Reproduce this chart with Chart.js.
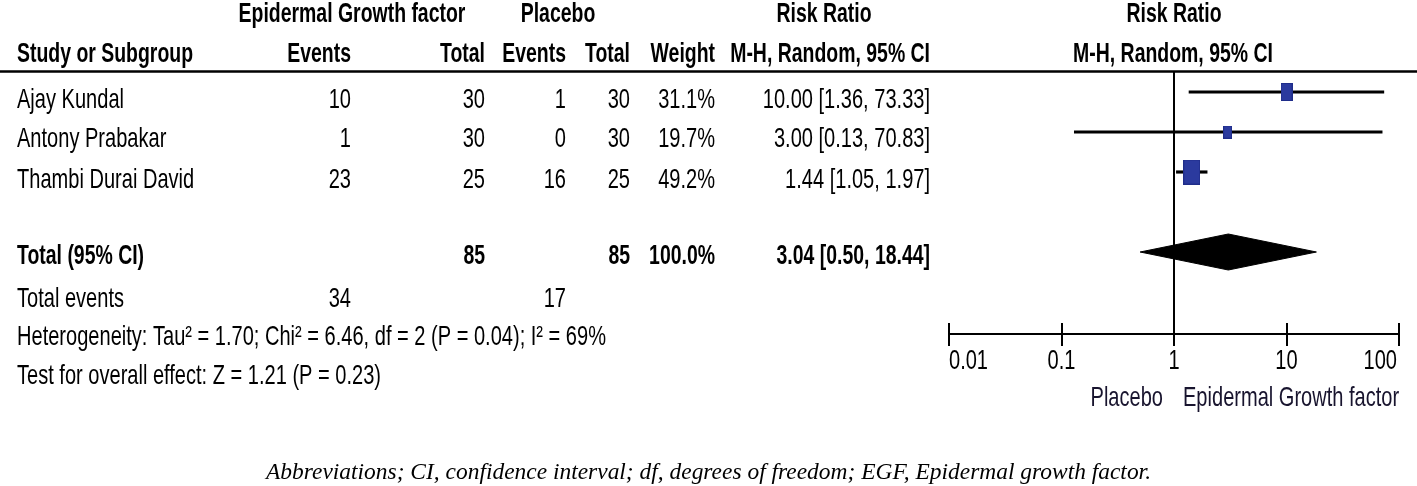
<!DOCTYPE html>
<html>
<head>
<meta charset="utf-8">
<script src="https://cdn.jsdelivr.net/npm/chart.js@4/dist/chart.umd.min.js"></script>
<style>
  html, body { margin: 0; padding: 0; background: #fff; }
  canvas { display: block; background: #fff; }
</style>
</head>
<body>
<canvas id="c" width="1417" height="486"></canvas>
<script>
// ---------------- DATA ----------------
const studies = ['Ajay Kundal', 'Antony Prabakar', 'Thambi Durai David'];
const egfEvents = [10, 1, 23];
const egfTotal = [30, 30, 25];
const placeboEvents = [1, 0, 16];
const placeboTotal = [30, 30, 25];
const weights = [31.1, 19.7, 49.2];
const riskRatio = [10.00, 3.00, 1.44];
const ciLow = [1.36, 0.13, 1.05];
const ciHigh = [73.33, 70.83, 1.97];

const totalLabel = 'Total (95% CI)';
const totalN = [85, 85];             // EGF total, placebo total
const totalWeight = 100.0;
const pooledRR = 3.04;
const pooledCI = [0.50, 18.44];
const totalEventsValues = [34, 17];   // EGF, placebo

const heterogeneityText = 'Heterogeneity: Tau\u00B2 = 1.70; Chi\u00B2 = 6.46, df = 2 (P = 0.04); I\u00B2 = 69%';
const overallEffectText = 'Test for overall effect: Z = 1.21 (P = 0.23)';

const xTickValues = [0.01, 0.1, 1, 10, 100];
const xTickLabels = ['0.01', '0.1', '1', '10', '100'];
const favoursLabels = ['Placebo', 'Epidermal Growth factor'];
const footnote = 'Abbreviations; CI, confidence interval; df, degrees of freedom; EGF, Epidermal growth factor.';

// ---------------- LAYOUT (not data) ----------------
const studyRows = [0, 1, 2];
const totalRow = 4;
const Y_MIN = -0.5, Y_MAX = 6.05;
const DIAMOND_HALF = 0.45;
const FONT_SANS = '"Liberation Sans Narrow","Arial Narrow","Liberation Sans",Arial,sans-serif';
const FONT_SERIF = '"Liberation Serif","Times New Roman",serif';
const FS = 28;
const SQUARE_COLOR = '#2b3a9e';

function squareFor(w) {
  const h = Math.round(5 + 0.407 * w);
  const wd = Math.round(h / 1.45);
  const cv = document.createElement('canvas');
  cv.width = wd; cv.height = h;
  const g = cv.getContext('2d');
  g.fillStyle = '#1f2d8a';
  g.fillRect(0, 0, wd, h);
  g.fillStyle = SQUARE_COLOR;
  g.fillRect(1, 1, wd - 2, h - 2);
  return cv;
}

let sxN = 1, sxB = 1, sxF = 1;
function calibrate(ctx) {
  ctx.save();
  ctx.font = `${FS}px ${FONT_SANS}`;
  sxN = 107 / ctx.measureText('Ajay Kundal').width;
  ctx.font = `bold ${FS}px ${FONT_SANS}`;
  sxB = 176 / ctx.measureText('Study or Subgroup').width;
  ctx.font = `italic 24px ${FONT_SERIF}`;
  sxF = 885 / ctx.measureText(footnote).width;
  ctx.restore();
}

function txt(ctx, s, x, y, align, bold, color) {
  ctx.save();
  ctx.font = `${bold ? 'bold ' : ''}${FS}px ${FONT_SANS}`;
  ctx.fillStyle = color || '#000';
  ctx.textAlign = align;
  ctx.textBaseline = 'alphabetic';
  ctx.translate(x, y);
  ctx.scale(bold ? sxB : sxN, 1);
  ctx.fillText(s, 0, 0);
  ctx.restore();
}

const tablePlugin = {
  id: 'forestTable',
  afterDraw(chart) {
    const ctx = chart.ctx;
    calibrate(ctx);
    const xs = chart.scales.x, ys = chart.scales.y;
    const top = ys.getPixelForValue(Y_MIN);
    const axisY = chart.chartArea.bottom;

    // header separator
    ctx.save();
    ctx.strokeStyle = '#000';
    ctx.lineWidth = 2.5;
    ctx.beginPath();
    ctx.moveTo(0, top - 0.5);
    ctx.lineTo(chart.width, top - 0.5);
    ctx.stroke();

    // upper half of tick marks
    ctx.lineWidth = 2;
    xs.ticks.forEach(t => {
      const px = Math.round(xs.getPixelForValue(t.value));
      ctx.beginPath();
      ctx.moveTo(px, axisY - 11);
      ctx.lineTo(px, axisY);
      ctx.stroke();
    });
    ctx.restore();

    // tick labels
    xs.ticks.forEach((t, i) => {
      const px = xs.getPixelForValue(t.value);
      const last = i === xs.ticks.length - 1;
      const align = i === 0 ? 'left' : (last ? 'right' : 'center');
      txt(ctx, xTickLabels[i], px + (last ? -2 : 0), 369, align, false);
    });

    // favours labels
    const onePx = xs.getPixelForValue(1);
    txt(ctx, favoursLabels[0], onePx - 11, 406, 'right', false, '#18142e');
    txt(ctx, favoursLabels[1], onePx + 9, 406, 'left', false, '#18142e');

    // headers
    txt(ctx, 'Epidermal Growth factor', 352, 22, 'center', true);
    txt(ctx, 'Placebo', 558, 22, 'center', true);
    txt(ctx, 'Risk Ratio', 824, 22, 'center', true);
    txt(ctx, 'Risk Ratio', onePx, 22, 'center', true);
    txt(ctx, 'Study or Subgroup', 17, 62, 'left', true);
    txt(ctx, 'Events', 351, 62, 'right', true);
    txt(ctx, 'Total', 485, 62, 'right', true);
    txt(ctx, 'Events', 566, 62, 'right', true);
    txt(ctx, 'Total', 630, 62, 'right', true);
    txt(ctx, 'Weight', 715, 62, 'right', true);
    txt(ctx, 'M-H, Random, 95% CI', 930, 62, 'right', true);
    txt(ctx, 'M-H, Random, 95% CI', onePx - 1, 62, 'center', true);

    // study rows
    const baselines = [108, 147, 188];
    studies.forEach((s, i) => {
      const b = baselines[i];
      txt(ctx, s, 17, b, 'left', false);
      txt(ctx, String(egfEvents[i]), 351, b, 'right', false);
      txt(ctx, String(egfTotal[i]), 485, b, 'right', false);
      txt(ctx, String(placeboEvents[i]), 566, b, 'right', false);
      txt(ctx, String(placeboTotal[i]), 630, b, 'right', false);
      txt(ctx, weights[i].toFixed(1) + '%', 715, b, 'right', false);
      txt(ctx, `${riskRatio[i].toFixed(2)} [${ciLow[i].toFixed(2)}, ${ciHigh[i].toFixed(2)}]`, 930, b, 'right', false);
    });

    // total row
    txt(ctx, totalLabel, 17, 264, 'left', true);
    txt(ctx, String(totalN[0]), 485, 264, 'right', true);
    txt(ctx, String(totalN[1]), 630, 264, 'right', true);
    txt(ctx, totalWeight.toFixed(1) + '%', 715, 264, 'right', true);
    txt(ctx, `${pooledRR.toFixed(2)} [${pooledCI[0].toFixed(2)}, ${pooledCI[1].toFixed(2)}]`, 930, 264, 'right', true);

    // total events
    txt(ctx, 'Total events', 17, 307, 'left', false);
    txt(ctx, String(totalEventsValues[0]), 351, 307, 'right', false);
    txt(ctx, String(totalEventsValues[1]), 566, 307, 'right', false);

    txt(ctx, heterogeneityText, 17, 345, 'left', false);
    txt(ctx, overallEffectText, 17, 384, 'left', false);

    // footnote
    ctx.save();
    ctx.font = `italic 24px ${FONT_SERIF}`;
    ctx.fillStyle = '#000';
    ctx.textAlign = 'left';
    ctx.translate(266, 479);
    ctx.scale(sxF, 1);
    ctx.fillText(footnote, 0, 0);
    ctx.restore();
  }
};

const ctxEl = document.getElementById('c');
new Chart(ctxEl, {
  type: 'scatter',
  data: {
    datasets: [
      {
        type: 'scatter',
        label: 'Risk ratio',
        data: studies.map((s, i) => ({ x: riskRatio[i], y: studyRows[i] })),
        pointStyle: weights.map(w => squareFor(w)),
        order: 0
      },
      {
        type: 'bar',
        label: '95% CI',
        indexAxis: 'y',
        data: studies.map((s, i) => ({ x: [ciLow[i], ciHigh[i]], y: studyRows[i] })),
        backgroundColor: '#000',
        borderWidth: 0,
        barThickness: 2.5,
        order: 2
      },
      {
        type: 'scatter',
        label: 'Pooled',
        data: [
          { x: pooledCI[0], y: totalRow },
          { x: pooledRR, y: totalRow - DIAMOND_HALF },
          { x: pooledCI[1], y: totalRow },
          { x: pooledRR, y: totalRow + DIAMOND_HALF },
          { x: pooledCI[0], y: totalRow }
        ],
        showLine: true,
        fill: 'shape',
        backgroundColor: '#000',
        borderColor: '#000',
        borderWidth: 1,
        pointRadius: 0,
        tension: 0,
        order: 1
      },
      {
        type: 'scatter',
        label: 'No effect',
        data: [{ x: 1, y: Y_MIN }, { x: 1, y: Y_MAX }],
        showLine: true,
        borderColor: '#000',
        borderWidth: 2,
        pointRadius: 0,
        fill: false,
        order: 3
      }
    ]
  },
  options: {
    responsive: false,
    animation: false,
    devicePixelRatio: 1,
    layout: { padding: { left: 949, right: 18, top: 72, bottom: 0 } },
    plugins: { legend: { display: false }, tooltip: { enabled: false } },
    events: [],
    scales: {
      x: {
        type: 'logarithmic',
        min: 0.01,
        max: 100,
        position: 'bottom',
        offset: false,
        afterBuildTicks: s => { s.ticks = xTickValues.map(v => ({ value: v })); },
        afterFit: s => { s.height = 486 - 334; },
        ticks: { display: false },
        grid: { drawOnChartArea: false, drawTicks: true, tickLength: 12, color: '#000', lineWidth: 2, offset: false },
        border: { display: true, color: '#000', width: 2 }
      },
      y: {
        type: 'linear',
        reverse: true,
        offset: false,
        min: Y_MIN,
        max: Y_MAX,
        display: false
      }
    }
  },
  plugins: [tablePlugin]
});
</script>
</body>
</html>
